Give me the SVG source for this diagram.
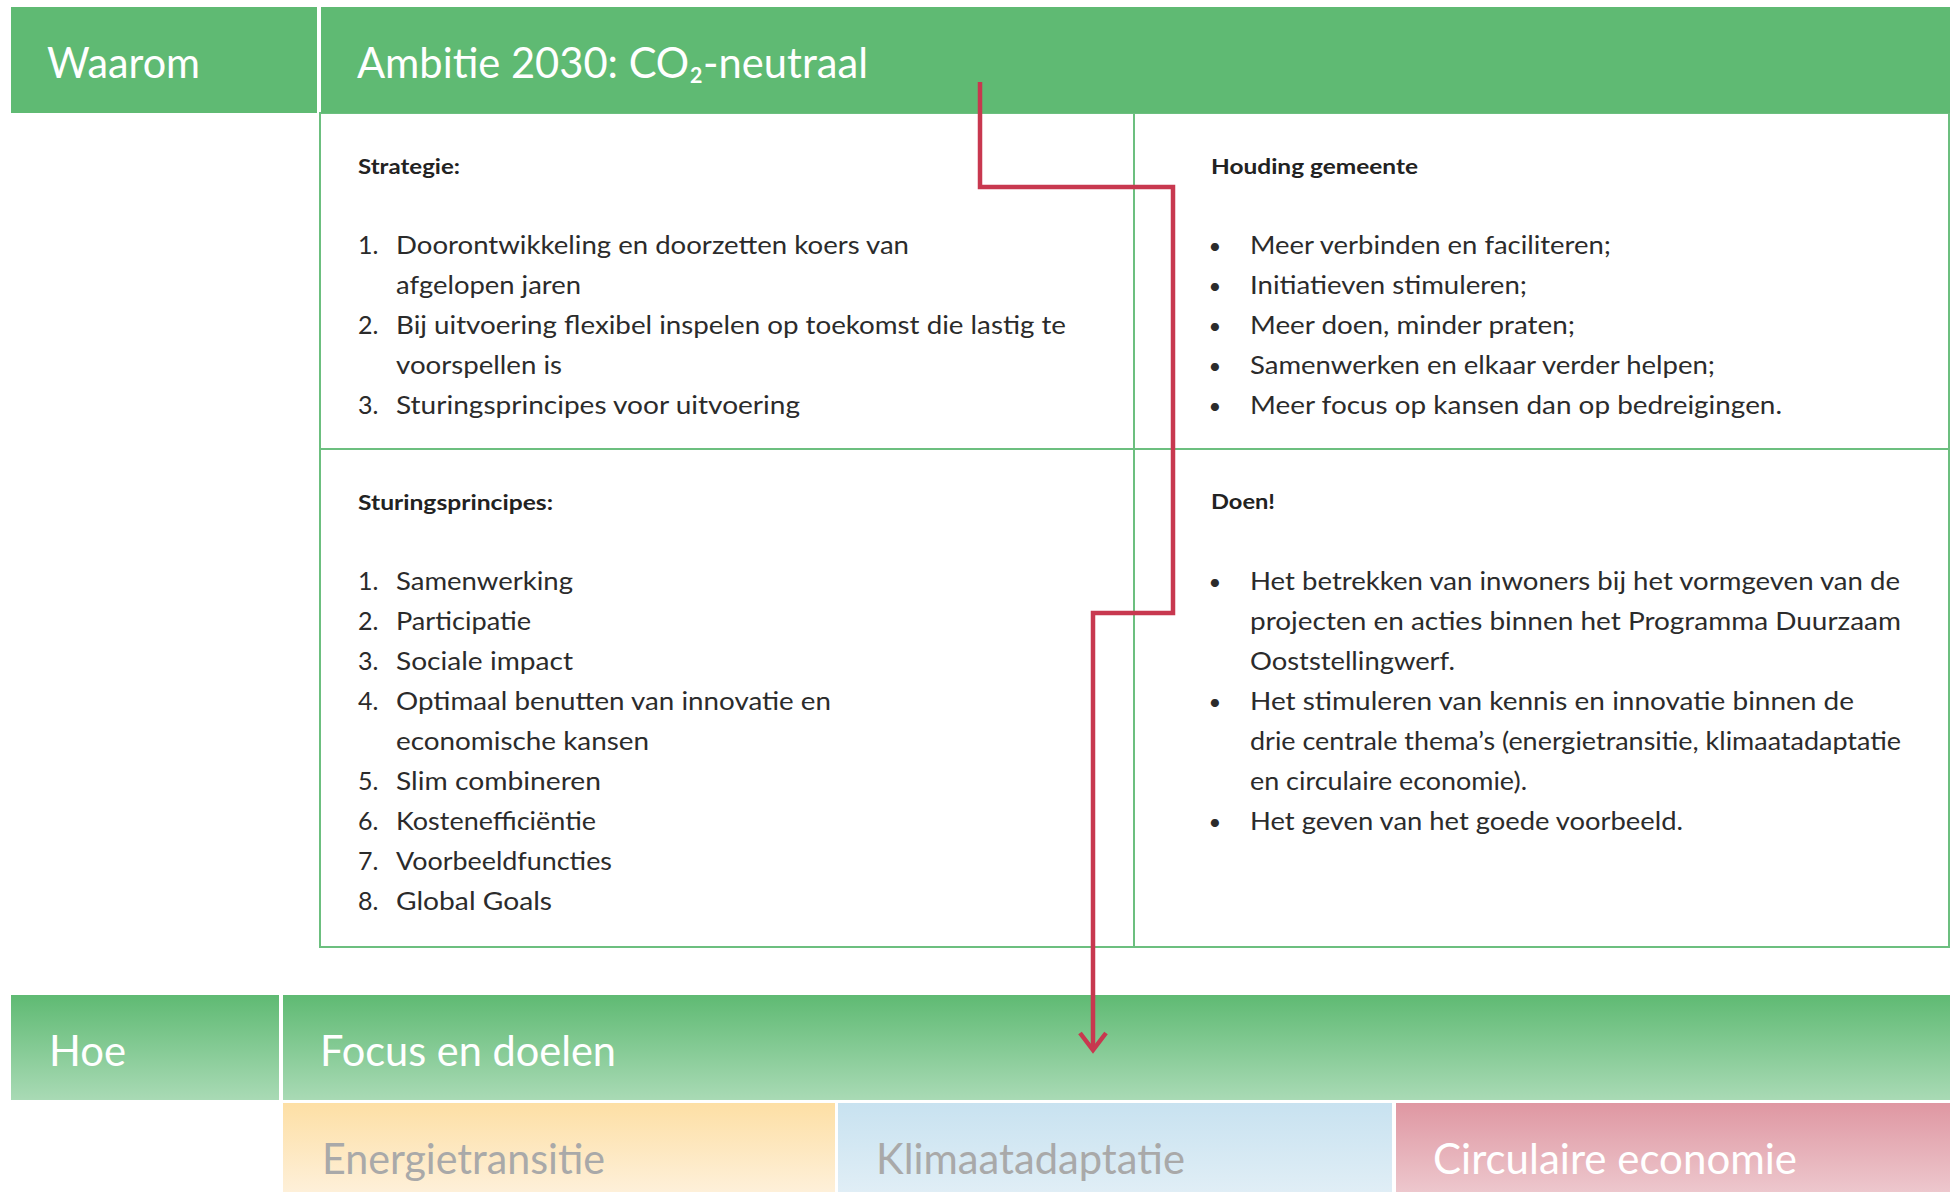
<svg xmlns="http://www.w3.org/2000/svg" width="1952" height="1192" viewBox="0 0 1952 1192">
<style>
.bar{fill:#5FBA73}
.big{font-family:Lato,"Liberation Sans",sans-serif;font-size:43px;fill:#ffffff}
.txt{font-family:Lato,"Liberation Sans",sans-serif;font-size:25px;fill:#2b2b2b}
.hd{font-family:Lato,"Liberation Sans",sans-serif;font-size:21px;font-weight:700;fill:#222222}
.bul{font-family:Lato,"Liberation Sans",sans-serif;font-size:22px;fill:#2b2b2b;text-anchor:middle}
.cell{fill:#ffffff;stroke:#6CBF7F;stroke-width:2}
.gray{fill:#A9A9A9}
.conn{fill:none;stroke:#C8384F;stroke-width:4.5;stroke-linejoin:miter}
</style>
<defs>
<linearGradient id="gGreen" x1="0" y1="0" x2="0" y2="1"><stop offset="0" stop-color="#5FBA73"/><stop offset="1" stop-color="#A9DAB5"/></linearGradient>
<linearGradient id="gOrange" x1="0" y1="0" x2="0" y2="1"><stop offset="0" stop-color="#FDDFA5"/><stop offset="1" stop-color="#FEF0D9"/></linearGradient>
<linearGradient id="gBlue" x1="0" y1="0" x2="0" y2="1"><stop offset="0" stop-color="#C8E2F0"/><stop offset="1" stop-color="#E0EEF6"/></linearGradient>
<linearGradient id="gPink" x1="0" y1="0" x2="0" y2="1"><stop offset="0" stop-color="#DF97A2"/><stop offset="1" stop-color="#EDC7CD"/></linearGradient>
<marker id="arrow" viewBox="-24 -16 28 32" refX="0" refY="0" markerWidth="28" markerHeight="32" markerUnits="userSpaceOnUse" orient="auto" overflow="visible">
<path d="M-17,-13 L0,0 L-17,13" fill="none" stroke="#C8384F" stroke-width="4.5" stroke-linejoin="miter"/>
</marker>
</defs>
<rect width="1952" height="1192" fill="#ffffff"/>

<g id="cell-strategie">
<rect class="cell" x="320" y="113" width="814" height="336"/>
<g transform="translate(0,2)">
<text class="hd" x="358" y="172" textLength="102" lengthAdjust="spacingAndGlyphs">Strategie:</text>
<text class="txt" x="358" y="252">1.</text>
<text class="txt" x="396" y="252" textLength="513" lengthAdjust="spacingAndGlyphs">Doorontwikkeling en doorzetten koers van</text>
<text class="txt" x="396" y="292" textLength="185" lengthAdjust="spacingAndGlyphs">afgelopen jaren</text>
<text class="txt" x="358" y="332">2.</text>
<text class="txt" x="396" y="332" textLength="670" lengthAdjust="spacingAndGlyphs">Bij uitvoering flexibel inspelen op toekomst die lastig te</text>
<text class="txt" x="396" y="372" textLength="166" lengthAdjust="spacingAndGlyphs">voorspellen is</text>
<text class="txt" x="358" y="412">3.</text>
<text class="txt" x="396" y="412" textLength="404" lengthAdjust="spacingAndGlyphs">Sturingsprincipes voor uitvoering</text>
</g>
</g>

<g id="cell-houding">
<rect class="cell" x="1134" y="113" width="815" height="336"/>
<g transform="translate(0,2)">
<text class="hd" x="1211" y="172" textLength="207" lengthAdjust="spacingAndGlyphs">Houding gemeente</text>
<text class="bul" x="1215" y="252">•</text>
<text class="txt" x="1250" y="252" textLength="361" lengthAdjust="spacingAndGlyphs">Meer verbinden en faciliteren;</text>
<text class="bul" x="1215" y="292">•</text>
<text class="txt" x="1250" y="292" textLength="277" lengthAdjust="spacingAndGlyphs">Initiatieven stimuleren;</text>
<text class="bul" x="1215" y="332">•</text>
<text class="txt" x="1250" y="332" textLength="325" lengthAdjust="spacingAndGlyphs">Meer doen, minder praten;</text>
<text class="bul" x="1215" y="372">•</text>
<text class="txt" x="1250" y="372" textLength="465" lengthAdjust="spacingAndGlyphs">Samenwerken en elkaar verder helpen;</text>
<text class="bul" x="1215" y="412">•</text>
<text class="txt" x="1250" y="412" textLength="532" lengthAdjust="spacingAndGlyphs">Meer focus op kansen dan op bedreigingen.</text>
</g>
</g>

<g id="cell-sturingsprincipes">
<rect class="cell" x="320" y="449" width="814" height="498"/>
<g transform="translate(0,2)">
<text class="hd" x="358" y="508" textLength="195" lengthAdjust="spacingAndGlyphs">Sturingsprincipes:</text>
<text class="txt" x="358" y="588">1.</text>
<text class="txt" x="396" y="588" textLength="177" lengthAdjust="spacingAndGlyphs">Samenwerking</text>
<text class="txt" x="358" y="628">2.</text>
<text class="txt" x="396" y="628" textLength="135" lengthAdjust="spacingAndGlyphs">Participatie</text>
<text class="txt" x="358" y="668">3.</text>
<text class="txt" x="396" y="668" textLength="177" lengthAdjust="spacingAndGlyphs">Sociale impact</text>
<text class="txt" x="358" y="708">4.</text>
<text class="txt" x="396" y="708" textLength="435" lengthAdjust="spacingAndGlyphs">Optimaal benutten van innovatie en</text>
<text class="txt" x="396" y="748" textLength="253" lengthAdjust="spacingAndGlyphs">economische kansen</text>
<text class="txt" x="358" y="788">5.</text>
<text class="txt" x="396" y="788" textLength="205" lengthAdjust="spacingAndGlyphs">Slim combineren</text>
<text class="txt" x="358" y="828">6.</text>
<text class="txt" x="396" y="828" textLength="200" lengthAdjust="spacingAndGlyphs">Kostenefficiëntie</text>
<text class="txt" x="358" y="868">7.</text>
<text class="txt" x="396" y="868" textLength="216" lengthAdjust="spacingAndGlyphs">Voorbeeldfuncties</text>
<text class="txt" x="358" y="908">8.</text>
<text class="txt" x="396" y="908" textLength="156" lengthAdjust="spacingAndGlyphs">Global Goals</text>
</g>
</g>

<g id="cell-doen">
<rect class="cell" x="1134" y="449" width="815" height="498"/>
<g transform="translate(0,2)">
<text class="hd" x="1211" y="507" textLength="64" lengthAdjust="spacingAndGlyphs">Doen!</text>
<text class="bul" x="1215" y="588">•</text>
<text class="txt" x="1250" y="588" textLength="650" lengthAdjust="spacingAndGlyphs">Het betrekken van inwoners bij het vormgeven van de</text>
<text class="txt" x="1250" y="628" textLength="651" lengthAdjust="spacingAndGlyphs">projecten en acties binnen het Programma Duurzaam</text>
<text class="txt" x="1250" y="668" textLength="205" lengthAdjust="spacingAndGlyphs">Ooststellingwerf.</text>
<text class="bul" x="1215" y="708">•</text>
<text class="txt" x="1250" y="708" textLength="604" lengthAdjust="spacingAndGlyphs">Het stimuleren van kennis en innovatie binnen de</text>
<text class="txt" x="1250" y="748" textLength="651" lengthAdjust="spacingAndGlyphs">drie centrale thema’s (energietransitie, klimaatadaptatie</text>
<text class="txt" x="1250" y="788" textLength="277" lengthAdjust="spacingAndGlyphs">en circulaire economie).</text>
<text class="bul" x="1215" y="828">•</text>
<text class="txt" x="1250" y="828" textLength="433" lengthAdjust="spacingAndGlyphs">Het geven van het goede voorbeeld.</text>
</g>
</g>

<g id="waarom">
<rect class="bar" x="11" y="7" width="306" height="106"/>
<text class="big" x="47" y="78" textLength="153" lengthAdjust="spacingAndGlyphs">Waarom</text>
</g>

<g id="ambitie">
<rect class="bar" x="321" y="7" width="1629" height="106"/>
<text class="big" x="357" y="78" textLength="511" lengthAdjust="spacingAndGlyphs">Ambitie 2030: CO₂-neutraal</text>
</g>

<g id="hoe">
<rect x="11" y="995" width="268" height="105" fill="url(#gGreen)"/>
<text class="big" x="49" y="1066" textLength="77" lengthAdjust="spacingAndGlyphs">Hoe</text>
</g>

<g id="focus">
<rect x="283" y="995" width="1667" height="105" fill="url(#gGreen)"/>
<text class="big" x="320" y="1066" textLength="296" lengthAdjust="spacingAndGlyphs">Focus en doelen</text>
</g>

<g id="energietransitie">
<rect x="283" y="1103" width="552" height="89" fill="url(#gOrange)"/>
<text class="big gray" x="322" y="1174" textLength="283" lengthAdjust="spacingAndGlyphs">Energietransitie</text>
</g>

<g id="klimaatadaptatie">
<rect x="838" y="1103" width="554" height="89" fill="url(#gBlue)"/>
<text class="big gray" x="876" y="1174" textLength="309" lengthAdjust="spacingAndGlyphs">Klimaatadaptatie</text>
</g>

<g id="circulaire-economie">
<rect x="1396" y="1103" width="554" height="89" fill="url(#gPink)"/>
<text class="big" x="1433" y="1174" textLength="364" lengthAdjust="spacingAndGlyphs">Circulaire economie</text>
</g>

<g id="connectors">
<path class="conn" d="M980,82 V187 H1173 V613 H1093 V1050" marker-end="url(#arrow)"/>
</g>
</svg>
